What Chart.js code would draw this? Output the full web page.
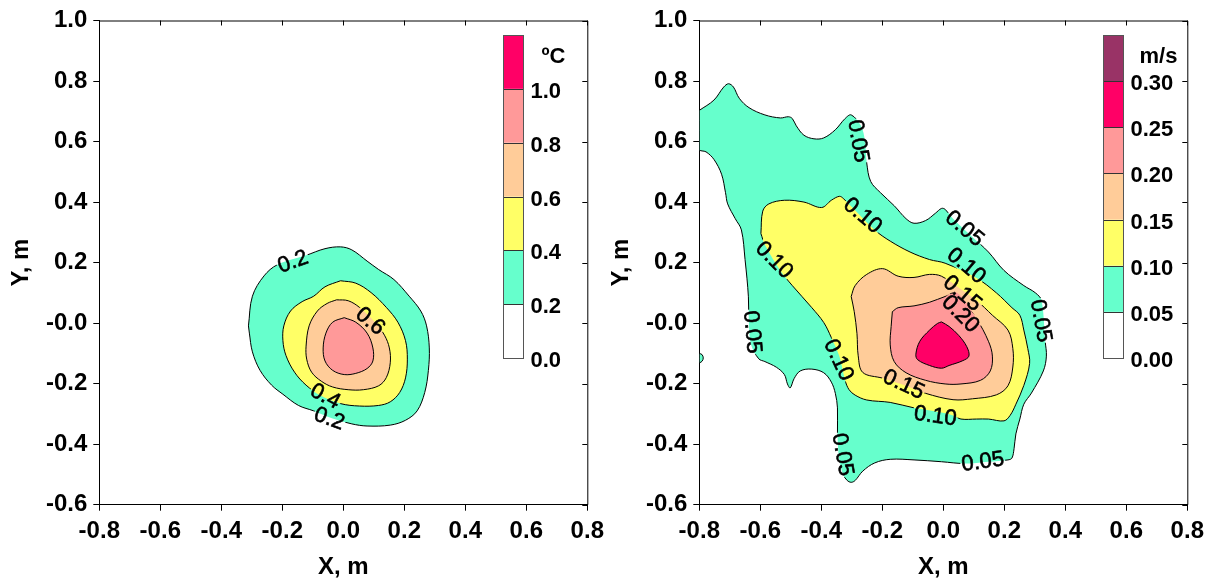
<!DOCTYPE html>
<html>
<head>
<meta charset="utf-8">
<script src="https://cdn.jsdelivr.net/npm/chart.js@4.4.1/dist/chart.umd.min.js"></script>
<style>
  html, body { margin: 0; padding: 0; background: #fff; }
  body { width: 1216px; height: 582px; position: relative; overflow: hidden; }
  .box { position: absolute; top: 0; width: 616px; height: 582px; }
  #boxT { left: 0; }
  #boxV { left: 600px; }
</style>
</head>
<body>
<div class="box" id="boxT"><canvas id="tempChart"></canvas></div>
<div class="box" id="boxV"><canvas id="velChart"></canvas></div>
<script>
// axes (m)
const xTicks = [-0.8, -0.6, -0.4, -0.2, 0.0, 0.2, 0.4, 0.6, 0.8];
const xTickLabels = ['-0.8', '-0.6', '-0.4', '-0.2', '0.0', '0.2', '0.4', '0.6', '0.8'];
const yTicks = [-0.6, -0.4, -0.2, 0.0, 0.2, 0.4, 0.6, 0.8, 1.0];
const yTickLabels = ['-0.6', '-0.4', '-0.2', '-0.0', '0.2', '0.4', '0.6', '0.8', '1.0'];

// temperature, ºC
const tempLevels = [0.0, 0.2, 0.4, 0.6, 0.8, 1.0];
const tempColors = ['#FFFFFF', '#66FFCC', '#FFFF66', '#FFCC99', '#FF9999', '#FF0066'];
const temp02 = [[-0.311,-0.009],[-0.298,0.089],[-0.260,0.156],[-0.216,0.193],[-0.122,0.224],[-0.060,0.246],
  [-0.009,0.252],[0.028,0.242],[0.078,0.205],[0.116,0.177],[0.166,0.144],[0.216,0.089],[0.254,0.040],
  [0.273,-0.009],[0.282,-0.082],[0.279,-0.156],[0.267,-0.229],[0.242,-0.290],[0.204,-0.321],[0.154,-0.337],
  [0.078,-0.340],[0.028,-0.333],[-0.035,-0.315],[-0.097,-0.290],[-0.147,-0.272],[-0.198,-0.235],
  [-0.235,-0.205],[-0.273,-0.156],[-0.298,-0.095],[-0.308,-0.033]];
const temp04 = [[-0.009,0.140],[0.041,0.132],[0.091,0.101],[0.141,0.052],[0.179,0.003],[0.204,-0.058],
  [0.210,-0.119],[0.204,-0.181],[0.185,-0.229],[0.154,-0.260],[0.116,-0.272],[0.053,-0.274],[-0.009,-0.266],
  [-0.072,-0.241],[-0.122,-0.205],[-0.160,-0.162],[-0.188,-0.107],[-0.198,-0.058],[-0.195,-0.009],
  [-0.173,0.040],[-0.135,0.071],[-0.097,0.089],[-0.060,0.120]];
const temp06 = [[-0.022,0.077],[0.016,0.074],[0.053,0.052],[0.104,0.003],[0.135,-0.040],[0.151,-0.082],
  [0.154,-0.131],[0.141,-0.180],[0.116,-0.207],[0.066,-0.220],[0.016,-0.220],[-0.035,-0.211],[-0.072,-0.192],
  [-0.104,-0.162],[-0.120,-0.119],[-0.122,-0.076],[-0.112,-0.009],[-0.085,0.040],[-0.053,0.065]];
const temp08 = [[0.003,0.018],[0.041,0.003],[0.078,-0.033],[0.097,-0.082],[0.097,-0.125],[0.078,-0.150],
  [0.041,-0.166],[0.003,-0.170],[-0.035,-0.156],[-0.060,-0.125],[-0.066,-0.082],[-0.057,-0.033],[-0.035,0.003]];

// velocity, m/s
const velLevels = [0.00, 0.05, 0.10, 0.15, 0.20, 0.25, 0.30];
const velColors = ['#FFFFFF', '#66FFCC', '#FFFF66', '#FFCC99', '#FF9999', '#FF0066', '#993366'];
const vel005 = [[-0.800,0.703],[-0.752,0.737],[-0.720,0.780],[-0.704,0.791],[-0.688,0.780],[-0.669,0.743],
  [-0.637,0.712],[-0.585,0.688],[-0.534,0.678],[-0.508,0.682],[-0.495,0.676],[-0.482,0.652],[-0.457,0.621],
  [-0.424,0.609],[-0.392,0.612],[-0.354,0.639],[-0.322,0.676],[-0.302,0.688],[-0.270,0.652],[-0.257,0.603],
  [-0.251,0.529],[-0.238,0.468],[-0.206,0.431],[-0.161,0.388],[-0.122,0.345],[-0.096,0.330],[-0.058,0.339],
  [-0.026,0.363],[-0.006,0.379],[0.006,0.376],[0.032,0.345],[0.096,0.284],[0.148,0.235],[0.199,0.174],
  [0.264,0.124],[0.302,0.100],[0.322,0.075],[0.334,-0.060],[0.338,-0.109],[0.328,-0.158],[0.289,-0.231],
  [0.264,-0.268],[0.251,-0.317],[0.238,-0.366],[0.232,-0.415],[0.225,-0.446],[0.212,-0.452],[0.148,-0.458],
  [0.071,-0.464],[-0.006,-0.458],[-0.096,-0.452],[-0.174,-0.450],[-0.225,-0.462],[-0.264,-0.489],
  [-0.289,-0.520],[-0.302,-0.526],[-0.315,-0.520],[-0.328,-0.501],[-0.341,-0.452],[-0.347,-0.366],
  [-0.347,-0.280],[-0.354,-0.232],[-0.367,-0.195],[-0.392,-0.164],[-0.431,-0.152],[-0.469,-0.158],
  [-0.489,-0.183],[-0.502,-0.214],[-0.511,-0.201],[-0.521,-0.170],[-0.547,-0.146],[-0.585,-0.127],
  [-0.605,-0.118],[-0.630,-0.072],[-0.637,-0.011],[-0.639,0.087],[-0.650,0.210],[-0.662,0.308],
  [-0.682,0.345],[-0.707,0.394],[-0.714,0.431],[-0.727,0.492],[-0.752,0.541],[-0.778,0.566],[-0.800,0.574]];
const vel005b = [[-0.800,-0.100],[-0.791,-0.104],[-0.787,-0.115],[-0.791,-0.126],[-0.800,-0.130]];
const vel010 = [[-0.598,0.296],[-0.592,0.370],[-0.572,0.394],[-0.521,0.406],[-0.457,0.400],[-0.399,0.382],
  [-0.367,0.406],[-0.341,0.419],[-0.328,0.412],[-0.225,0.308],[-0.174,0.271],[-0.109,0.235],[-0.045,0.210],
  [0.006,0.198],[0.109,0.149],[0.174,0.100],[0.225,0.051],[0.251,0.026],[0.264,-0.023],[0.277,-0.084],
  [0.283,-0.133],[0.264,-0.206],[0.238,-0.268],[0.219,-0.305],[0.199,-0.323],[0.148,-0.317],[0.109,-0.317],
  [0.058,-0.317],[0.032,-0.305],[-0.019,-0.293],[-0.096,-0.280],[-0.174,-0.262],[-0.251,-0.254],
  [-0.289,-0.238],[-0.309,-0.220],[-0.322,-0.189],[-0.341,-0.109],[-0.367,-0.048],[-0.392,0.002],
  [-0.431,0.051],[-0.495,0.124],[-0.534,0.173],[-0.585,0.259]];
const vel015 = [[-0.302,0.088],[-0.289,0.124],[-0.251,0.161],[-0.199,0.180],[-0.148,0.155],[-0.096,0.151],
  [-0.045,0.161],[-0.006,0.155],[0.058,0.112],[0.109,0.075],[0.161,0.026],[0.212,-0.023],[0.228,-0.084],
  [0.228,-0.145],[0.212,-0.207],[0.174,-0.237],[0.096,-0.250],[0.032,-0.253],[-0.058,-0.232],[-0.122,-0.207],
  [-0.199,-0.182],[-0.264,-0.163],[-0.279,-0.108],[-0.283,-0.035],[-0.292,0.038]];
const vel020 = [[-0.167,0.038],[-0.148,0.051],[-0.096,0.057],[-0.045,0.069],[0.006,0.088],[0.045,0.100],
  [0.109,0.014],[0.148,-0.060],[0.161,-0.109],[0.154,-0.158],[0.122,-0.189],[0.058,-0.201],[0.006,-0.201],
  [-0.058,-0.189],[-0.122,-0.164],[-0.161,-0.127],[-0.174,-0.072],[-0.171,-0.011]];
const vel025 = [[-0.006,0.004],[0.019,-0.011],[0.051,-0.041],[0.077,-0.078],[0.084,-0.109],[0.064,-0.124],
  [0.019,-0.140],[-0.006,-0.149],[-0.045,-0.140],[-0.084,-0.121],[-0.090,-0.103],[-0.077,-0.060],
  [-0.045,-0.023],[-0.019,-0.001]];

// contour labels: text, x, y, angle (deg)
const tempLabels = [['0.2',-0.166,0.205,-20],['0.6',0.090,0.008,40],['0.4',-0.058,-0.240,28],['0.2',-0.045,-0.314,20]];
const velLabels = [['0.05',-0.277,0.602,80],['0.10',-0.263,0.357,40],['0.10',-0.553,0.210,45],
  ['0.05',0.071,0.314,40],['0.10',0.077,0.191,40],['0.15',0.064,0.100,40],['0.20',0.058,0.032,45],
  ['0.05',0.322,0.008,80],['0.05',-0.624,-0.029,85],['0.10',-0.341,-0.121,65],['0.15',-0.129,-0.201,25],
  ['0.10',-0.026,-0.305,8],['0.05',0.129,-0.456,-8],['0.05',-0.328,-0.434,80]];

const FONT = "'Liberation Sans', Arial, sans-serif";

function contour(pts, color, order) {
  const data = pts.map(p => ({x: p[0], y: p[1]}));
  data.push({x: pts[0][0], y: pts[0][1]});
  return {
    data: data,
    showLine: true,
    fill: 'shape',
    backgroundColor: color,
    borderColor: '#000',
    borderWidth: 1,
    pointRadius: 0,
    tension: 0.35,
    order: order
  };
}

// frame, inner ticks, colour bar, contour labels
const decoPlugin = {
  id: 'deco',
  beforeDatasetDraw(chart, args, opts) {
    // break the contour lines under the labels
    const ctx = chart.ctx;
    const sx = chart.scales.x, sy = chart.scales.y;
    ctx.save();
    ctx.font = '22px ' + FONT;
    ctx.beginPath();
    ctx.rect(0, 0, chart.width, chart.height);
    opts.labels.forEach(l => {
      const cx = sx.getPixelForValue(l[1]), cy = sy.getPixelForValue(l[2]);
      const w = ctx.measureText(l[0]).width / 2 + 1, h = 9;
      const a = l[3] * Math.PI / 180, c = Math.cos(a), s = Math.sin(a);
      const pts = [[-w,-h],[w,-h],[w,h],[-w,h]].map(p => [cx + p[0]*c - p[1]*s, cy + p[0]*s + p[1]*c]);
      ctx.moveTo(pts[0][0], pts[0][1]);
      for (let i = 1; i < 4; i++) ctx.lineTo(pts[i][0], pts[i][1]);
      ctx.closePath();
    });
    ctx.clip('evenodd');
  },
  afterDatasetDraw(chart) {
    chart.ctx.restore();
  },
  afterDraw(chart, args, opts) {
    const ctx = chart.ctx;
    const a = chart.chartArea;
    const sx = chart.scales.x, sy = chart.scales.y;
    ctx.save();

    // labels on the contours
    ctx.fillStyle = '#000';
    ctx.strokeStyle = '#000';
    ctx.lineWidth = 0.6;
    ctx.font = '22px ' + FONT;
    ctx.textAlign = 'center';
    ctx.textBaseline = 'middle';
    opts.labels.forEach(l => {
      ctx.save();
      ctx.translate(sx.getPixelForValue(l[1]), sy.getPixelForValue(l[2]));
      ctx.rotate(l[3] * Math.PI / 180);
      ctx.fillText(l[0], 0, 1);
      ctx.strokeText(l[0], 0, 1);
      ctx.restore();
    });

    // top and right frame with inward ticks
    ctx.strokeStyle = '#000';
    ctx.lineWidth = 1;
    ctx.beginPath();
    ctx.moveTo(a.left, a.top + 0.5);
    ctx.lineTo(a.right + 0.5, a.top + 0.5);
    ctx.lineTo(a.right + 0.5, a.bottom);
    xTicks.forEach(v => {
      const px = Math.round(sx.getPixelForValue(v)) + 0.5;
      ctx.moveTo(px, a.top); ctx.lineTo(px, a.top + 5);
    });
    yTicks.forEach(v => {
      const py = Math.round(sy.getPixelForValue(v)) + 0.5;
      ctx.moveTo(a.right, py); ctx.lineTo(a.right - 5, py);
    });
    ctx.stroke();

    // colour bar
    const n = opts.colors.length;
    const bx = Math.round(a.right - 84) + 0.5, bw = 20;
    const top = a.top + 14.5, bh = 323 / n;
    for (let i = 0; i < n; i++) {
      const y0 = top + (n - 1 - i) * bh;
      ctx.fillStyle = opts.colors[i];
      ctx.fillRect(bx, y0, bw, bh);
    }
    ctx.strokeStyle = '#333';
    for (let i = 1; i < n; i++) {
      const y = Math.round(top + i * bh) + 0.5;
      ctx.beginPath(); ctx.moveTo(bx, y); ctx.lineTo(bx + bw, y); ctx.stroke();
    }
    ctx.strokeStyle = '#555';
    ctx.strokeRect(bx, Math.round(top) + 0.5, bw, Math.round(n * bh));

    ctx.fillStyle = '#000';
    ctx.font = 'bold 22px ' + FONT;
    ctx.textAlign = 'left';
    ctx.textBaseline = 'middle';
    opts.levels.forEach((v, i) => {
      const y = top + (n - i) * bh + 3;
      ctx.fillText(v.toFixed(opts.digits), bx + 27, y);
    });
    ctx.fillText(opts.unit, bx + opts.unitDx, top + 22);
    ctx.restore();
  }
};

function makeChart(id, datasets, deco) {
  const tickFont = {family: FONT, size: 24, weight: 'bold'};
  const titleFont = {family: FONT, size: 24, weight: 'bold'};
  return new Chart(document.getElementById(id), {
    type: 'scatter',
    data: {datasets: datasets},
    options: {
      responsive: true,
      maintainAspectRatio: false,
      animation: false,
      events: [],
      layout: {padding: {top: 20.5, right: 28.7, bottom: 0, left: 0}},
      plugins: {
        legend: {display: false},
        tooltip: {enabled: false},
        deco: deco
      },
      scales: {
        x: {
          type: 'linear',
          min: -0.8,
          max: 0.8,
          afterBuildTicks: s => { s.ticks = xTicks.map(v => ({value: v})); },
          afterFit: s => { s.height = 77.3; },
          ticks: {
            callback: (v, i) => xTickLabels[i],
            font: tickFont,
            color: '#000',
            padding: 6,
            maxRotation: 0,
            autoSkip: false
          },
          grid: {drawOnChartArea: false, tickLength: 6, color: '#000'},
          border: {color: '#000', width: 1},
          title: {display: true, text: 'X, m', font: titleFont, color: '#000', padding: {top: 0, bottom: 0}}
        },
        y: {
          type: 'linear',
          min: -0.6,
          max: 1.0,
          afterBuildTicks: s => { s.ticks = yTicks.map(v => ({value: v})); },
          afterFit: s => { s.width = 99.3; },
          ticks: {
            callback: (v, i) => yTickLabels[i],
            font: tickFont,
            color: '#000',
            padding: 6,
            autoSkip: false
          },
          grid: {drawOnChartArea: false, tickLength: 6, color: '#000'},
          border: {color: '#000', width: 1},
          title: {display: true, text: 'Y, m', font: titleFont, color: '#000', padding: {top: 7, bottom: 0}}
        }
      }
    },
    plugins: [decoPlugin]
  });
}

makeChart('tempChart', [
  contour(temp02, tempColors[1], 5),
  contour(temp04, tempColors[2], 4),
  contour(temp06, tempColors[3], 3),
  contour(temp08, tempColors[4], 2)
], {levels: tempLevels, colors: tempColors, digits: 1, unit: 'ºC', unitDx: 38, labels: tempLabels});

makeChart('velChart', [
  contour(vel005, velColors[1], 7),
  contour(vel005b, velColors[1], 7),
  contour(vel010, velColors[2], 5),
  contour(vel015, velColors[3], 4),
  contour(vel020, velColors[4], 3),
  contour(vel025, velColors[5], 2)
], {levels: velLevels, colors: velColors, digits: 2, unit: 'm/s', unitDx: 36, labels: velLabels});
</script>
</body>
</html>
